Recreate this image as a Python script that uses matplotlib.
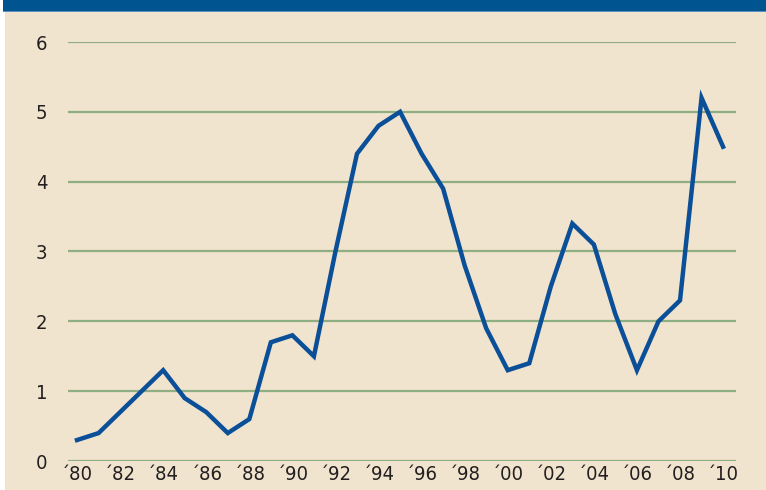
import matplotlib
matplotlib.use('Agg')
from matplotlib import pyplot as plt
from matplotlib.patches import Rectangle

years = list(range(1980, 2011))
values = [0.3, 0.4, 0.7, 1.0, 1.3, 0.9, 0.7, 0.4, 0.6, 1.7,
          1.8, 1.5, 3.0, 4.4, 4.8, 5.0, 4.4, 3.9, 2.8, 1.9,
          1.3, 1.4, 2.5, 3.4, 3.1, 2.1, 1.3, 2.0, 2.3, 5.2,
          4.5]
tick_years = list(range(1980, 2011, 2))
tick_labels = ['\u00b4{:02d}'.format(y % 100) for y in tick_years]
y_ticks = [0, 1, 2, 3, 4, 5, 6]

bg = '#f0e4ce'
line_blue = '#0a4f98'
grid_green = '#8fae84'
banner_blue = '#00548f'

plt.rcParams['font.family'] = ['DejaVu Sans']
plt.rcParams['font.stretch'] = 'condensed'

fig = plt.figure(figsize=(7.66, 4.9), dpi=100)
fig.patch.set_facecolor('white')
# beige panel and blue banner
fig.patches.append(Rectangle((5 / 766, 0), 1, 1, transform=fig.transFigure,
                             facecolor=bg, edgecolor='none', zorder=-3))
fig.patches.append(Rectangle((3 / 766, 1 - 11 / 490), 1, 11 / 490,
                             transform=fig.transFigure, facecolor=banner_blue,
                             edgecolor='none', zorder=-2))
fig.patches.append(Rectangle((3 / 766, 1 - 12 / 490), 1, 1.2 / 490,
                             transform=fig.transFigure, facecolor='#5b8fbd',
                             edgecolor='none', zorder=-2))

ax = fig.add_axes([68 / 766, 29 / 490, 668 / 766, 419 / 490])
ax.set_zorder(2)
ax.set_facecolor('none')
ax.plot(years, values, color=line_blue, linewidth=3.2, solid_joinstyle='miter',
        clip_on=False, zorder=3)

ax.set_xlim(1979.58, 2010.6)
ax.set_ylim(0, 6)
ax.set_yticks(y_ticks)
ax.set_xticks(tick_years)
ax.set_xticklabels(tick_labels)
for y in y_ticks:
    ax.axhline(y, color=grid_green, linewidth=1.6, zorder=1)

for s in ax.spines.values():
    s.set_visible(False)
ax.tick_params(axis='both', length=0, labelsize=14.5, colors='#231f20')
ax.tick_params(axis='y', pad=15)
ax.tick_params(axis='x', pad=3)

fig.savefig('out.png', dpi=100, facecolor=fig.get_facecolor())
